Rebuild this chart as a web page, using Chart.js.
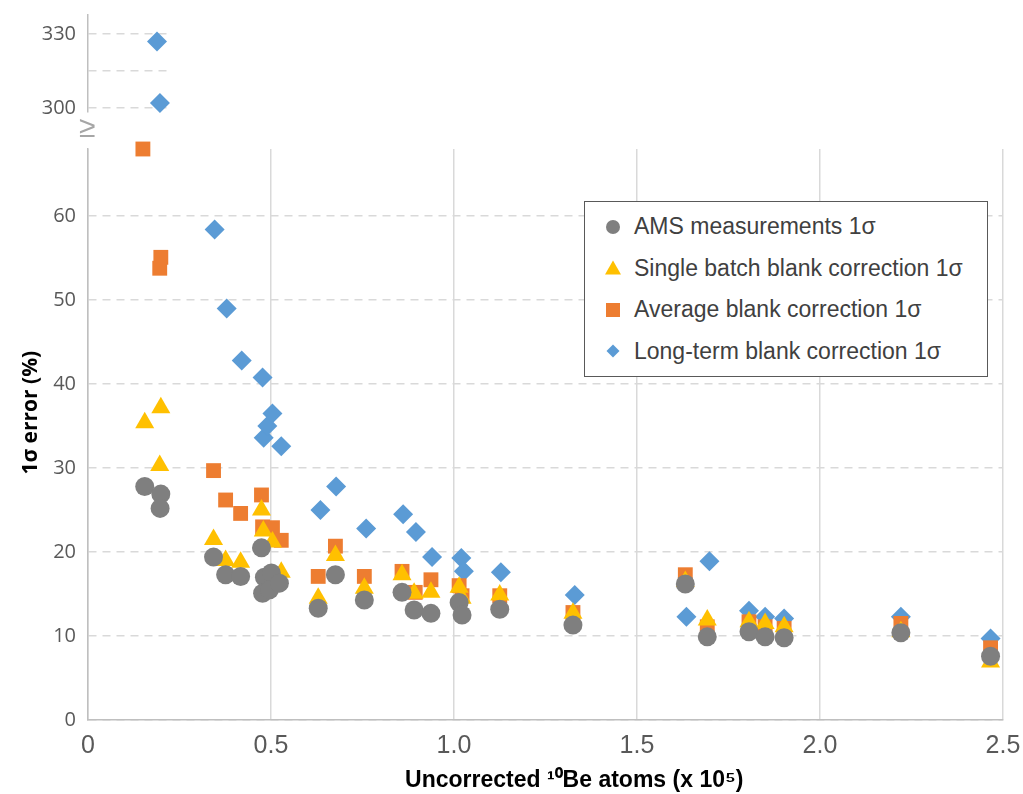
<!DOCTYPE html>
<html>
<head>
<meta charset="utf-8">
<script src="https://cdn.jsdelivr.net/npm/chart.js@4"></script>
<style>
  body { margin: 0; background: #fff; }
  #wrap { position: relative; width: 1023px; height: 794px; }
  #lower { position: absolute; left: 0; top: 0; }
  #upper { position: absolute; left: 0; top: 0; }
  #brk { position: absolute; left: 79px; top: 110px; font: 30px "Liberation Sans", Arial, sans-serif; color: #a6a6a6; }
  #legend { position: absolute; left: 584px; top: 201px; width: 404px; height: 176px;
            border: 1.5px solid #595959; background: #fff; box-sizing: border-box; padding-top: 4px; }
  #legend .row { display: flex; align-items: center; height: 41.5px; }
  #legend svg { margin-left: 20px; margin-right: 13px; }
  #legend span { font: 23px "Liberation Sans", Arial, sans-serif; color: #404040; }
</style>
</head>
<body>
<div id="wrap">
  <canvas id="lower" width="1023" height="794"></canvas>
  <canvas id="upper" width="180" height="125"></canvas>
  <div id="brk">≥</div>
  <div id="legend"></div>
</div>
<script>
// x in units of 10^5 atoms, y = 1 sigma error (%)
var amsX = [0.155, 0.199, 0.197, 0.343, 0.376, 0.417, 0.474, 0.482, 0.477, 0.501, 0.496, 0.523, 0.629, 0.676, 0.755, 0.858, 0.891, 0.937, 1.014, 1.022, 1.125, 1.325, 1.632, 1.692, 1.806, 1.850, 1.902, 2.221, 2.466];
var amsY = [27.8, 26.9, 25.2, 19.4, 17.3, 17.1, 20.5, 17.0, 15.1, 17.5, 15.5, 16.3, 13.3, 17.3, 14.3, 15.2, 13.1, 12.7, 14.0, 12.5, 13.2, 11.3, 16.2, 9.9, 10.5, 9.9, 9.8, 10.4, 7.6];

var singleX = [0.155, 0.199, 0.196, 0.343, 0.376, 0.417, 0.474, 0.479, 0.504, 0.528, 0.629, 0.676, 0.755, 0.858, 0.891, 0.937, 1.014, 1.022, 1.125, 1.325, 1.632, 1.692, 1.806, 1.850, 1.902, 2.221, 2.466];
var singleY = [35.4, 37.2, 30.3, 21.5, 19.0, 18.8, 25.0, 22.5, 21.2, 17.6, 14.5, 19.6, 15.7, 17.3, 15.1, 15.2, 15.8, 14.5, 14.9, 12.7, 16.5, 11.9, 11.7, 11.5, 11.1, 10.5, 6.9];

var averageX = [0.150, 0.199, 0.196, 0.343, 0.376, 0.417, 0.474, 0.477, 0.504, 0.528, 0.629, 0.676, 0.755, 0.858, 0.894, 0.937, 1.014, 1.022, 1.125, 1.325, 1.632, 1.692, 1.806, 1.850, 1.902, 2.221, 2.466];
var averageY = [68.0, 55.1, 53.8, 29.7, 26.2, 24.6, 26.8, 23.0, 22.9, 21.4, 17.1, 20.7, 17.1, 17.7, 15.2, 16.7, 16.0, 14.8, 14.8, 12.8, 17.3, 11.1, 11.7, 11.1, 10.9, 11.5, 8.6];

var longX = [0.346, 0.379, 0.420, 0.477, 0.480, 0.490, 0.504, 0.528, 0.635, 0.678, 0.760, 0.861, 0.896, 0.940, 1.020, 1.027, 1.128, 1.330, 1.635, 1.698, 1.806, 1.850, 1.902, 2.221, 2.466];
var longY = [58.4, 49.0, 42.8, 40.8, 33.6, 35.0, 36.5, 32.6, 25.0, 27.8, 22.8, 24.5, 22.4, 19.4, 19.3, 17.7, 17.6, 14.9, 12.3, 18.9, 13.0, 12.3, 12.1, 12.3, 9.7];

// long-term values above the axis break
var longHighX = [0.189, 0.197];
var longHighY = [327.0, 302.0];

var xTicks = [0, 0.5, 1.0, 1.5, 2.0, 2.5];
var yTicks = [0, 10, 20, 30, 40, 50, 60];
var yHighTicks = [300, 315, 330];
var yHighLabels = ['300', '', '330'];

var seriesNames = ['AMS measurements 1σ', 'Single batch blank correction 1σ', 'Average blank correction 1σ', 'Long-term blank correction 1σ'];
var colors = ['#7f7f7f', '#ffc000', '#ed7d31', '#5b9bd5'];
var styles = ['circle', 'triangle', 'rect', 'rectRot'];
var radii = [9.5, 11, 10.5, 10];

function pts(xs, ys) {
    return xs.map(function (x, i) { return {x: x, y: ys[i]}; });
}

function mkSet(i, data) {
    return {
        label: seriesNames[i],
        data: data,
        pointStyle: styles[i],
        pointRadius: radii[i],
        pointHoverRadius: radii[i],
        backgroundColor: colors[i],
        borderColor: colors[i],
        pointBorderWidth: 0,
        showLine: false,
        clip: false
    };
}

var gridGray = '#d9d9d9';
var axisGray = '#bfbfbf';
var tickGray = '#595959';
var yTickFont = {family: '"Open Sans", sans-serif', size: 20};

// fixed axis width, and no extra room for the end labels
function fixWidth(w) {
    return function (scale) {
        scale.width = w;
        scale.paddingTop = 0;
        scale.paddingBottom = 0;
    };
}

var lower = new Chart(document.getElementById('lower'), {
    type: 'scatter',
    data: {
        datasets: [
            mkSet(0, pts(amsX, amsY)),
            mkSet(1, pts(singleX, singleY)),
            mkSet(2, pts(averageX, averageY)),
            mkSet(3, pts(longX, longY))
        ]
    },
    options: {
        responsive: false,
        animation: false,
        layout: {autoPadding: false, padding: {top: 149, right: 20, left: 0, bottom: 0}},
        plugins: {legend: {display: false}, tooltip: {enabled: false}},
        scales: {
            x: {
                type: 'linear', min: 0, max: 2.5,
                afterBuildTicks: function (s) { s.ticks = xTicks.map(function (v) { return {value: v}; }); },
                afterFit: function (s) {
                    s.height = 74;
                    s.paddingLeft = 0;
                    s.paddingRight = 0;
                },
                ticks: {
                    color: tickGray, padding: 11,
                    font: {family: '"Liberation Sans", Arial, sans-serif', size: 25},
                    callback: function (v) { return v === 0 ? '0' : v.toFixed(1); }
                },
                grid: {color: gridGray, lineWidth: 1.5, drawTicks: false},
                border: {color: axisGray, width: 1.5},
                title: {
                    display: true,
                    text: '         Uncorrected ¹⁰Be atoms (x 10⁵)',
                    color: '#000',
                    font: {family: '"Liberation Sans Narrow", "Arial Narrow", "Liberation Sans", sans-serif', size: 23, weight: 'bold'},
                    padding: {top: 0, bottom: 0}
                }
            },
            y: {
                type: 'linear', min: 0, max: 68,
                afterBuildTicks: function (s) { s.ticks = yTicks.map(function (v) { return {value: v}; }); },
                afterFit: fixWidth(88),
                ticks: {color: tickGray, padding: 12, font: yTickFont},
                grid: {color: gridGray, lineWidth: 1.5, drawTicks: false},
                border: {color: axisGray, width: 1.5, dash: [8, 6]},
                title: {
                    display: true,
                    text: '        1σ error (%)',
                    color: '#000',
                    font: {family: '"Open Sans", sans-serif', size: 21, weight: 'bold'},
                    padding: {top: 18, bottom: 0}
                }
            }
        }
    }
});

var upper = new Chart(document.getElementById('upper'), {
    type: 'scatter',
    data: {datasets: [mkSet(3, pts(longHighX, longHighY))]},
    options: {
        responsive: false,
        animation: false,
        layout: {autoPadding: false, padding: {top: 15, right: 8, left: 0, bottom: 13}},
        plugins: {legend: {display: false}, tooltip: {enabled: false}},
        scales: {
            x: {type: 'linear', min: 0, max: 0.23, display: false},
            y: {
                type: 'linear', min: 298.4, max: 337.7,
                afterBuildTicks: function (s) { s.ticks = yHighTicks.map(function (v) { return {value: v}; }); },
                afterFit: fixWidth(88),
                ticks: {
                    color: tickGray, padding: 12, font: yTickFont,
                    callback: function (v) { return yHighLabels[yHighTicks.indexOf(v)]; }
                },
                grid: {color: gridGray, lineWidth: 1.5, drawTicks: false},
                border: {color: axisGray, width: 1.5, dash: [8, 6]}
            }
        }
    }
});

function markerSvg(style, color) {
    var s = '<svg width="16" height="16" viewBox="0 0 16 16">';
    if (style === 'circle') s += '<circle cx="8" cy="8" r="7" fill="' + color + '"/>';
    else if (style === 'triangle') s += '<polygon points="8,0.5 16,14.5 0,14.5" fill="' + color + '"/>';
    else if (style === 'rect') s += '<rect x="1" y="1" width="14" height="14" fill="' + color + '"/>';
    else s += '<polygon points="8,1.5 14.5,8 8,14.5 1.5,8" fill="' + color + '"/>';
    return s + '</svg>';
}

var html = '';
lower.data.datasets.forEach(function (ds) {
    html += '<div class="row">' + markerSvg(ds.pointStyle, ds.backgroundColor) + '<span>' + ds.label + '</span></div>';
});
document.getElementById('legend').innerHTML = html;
</script>
</body>
</html>
